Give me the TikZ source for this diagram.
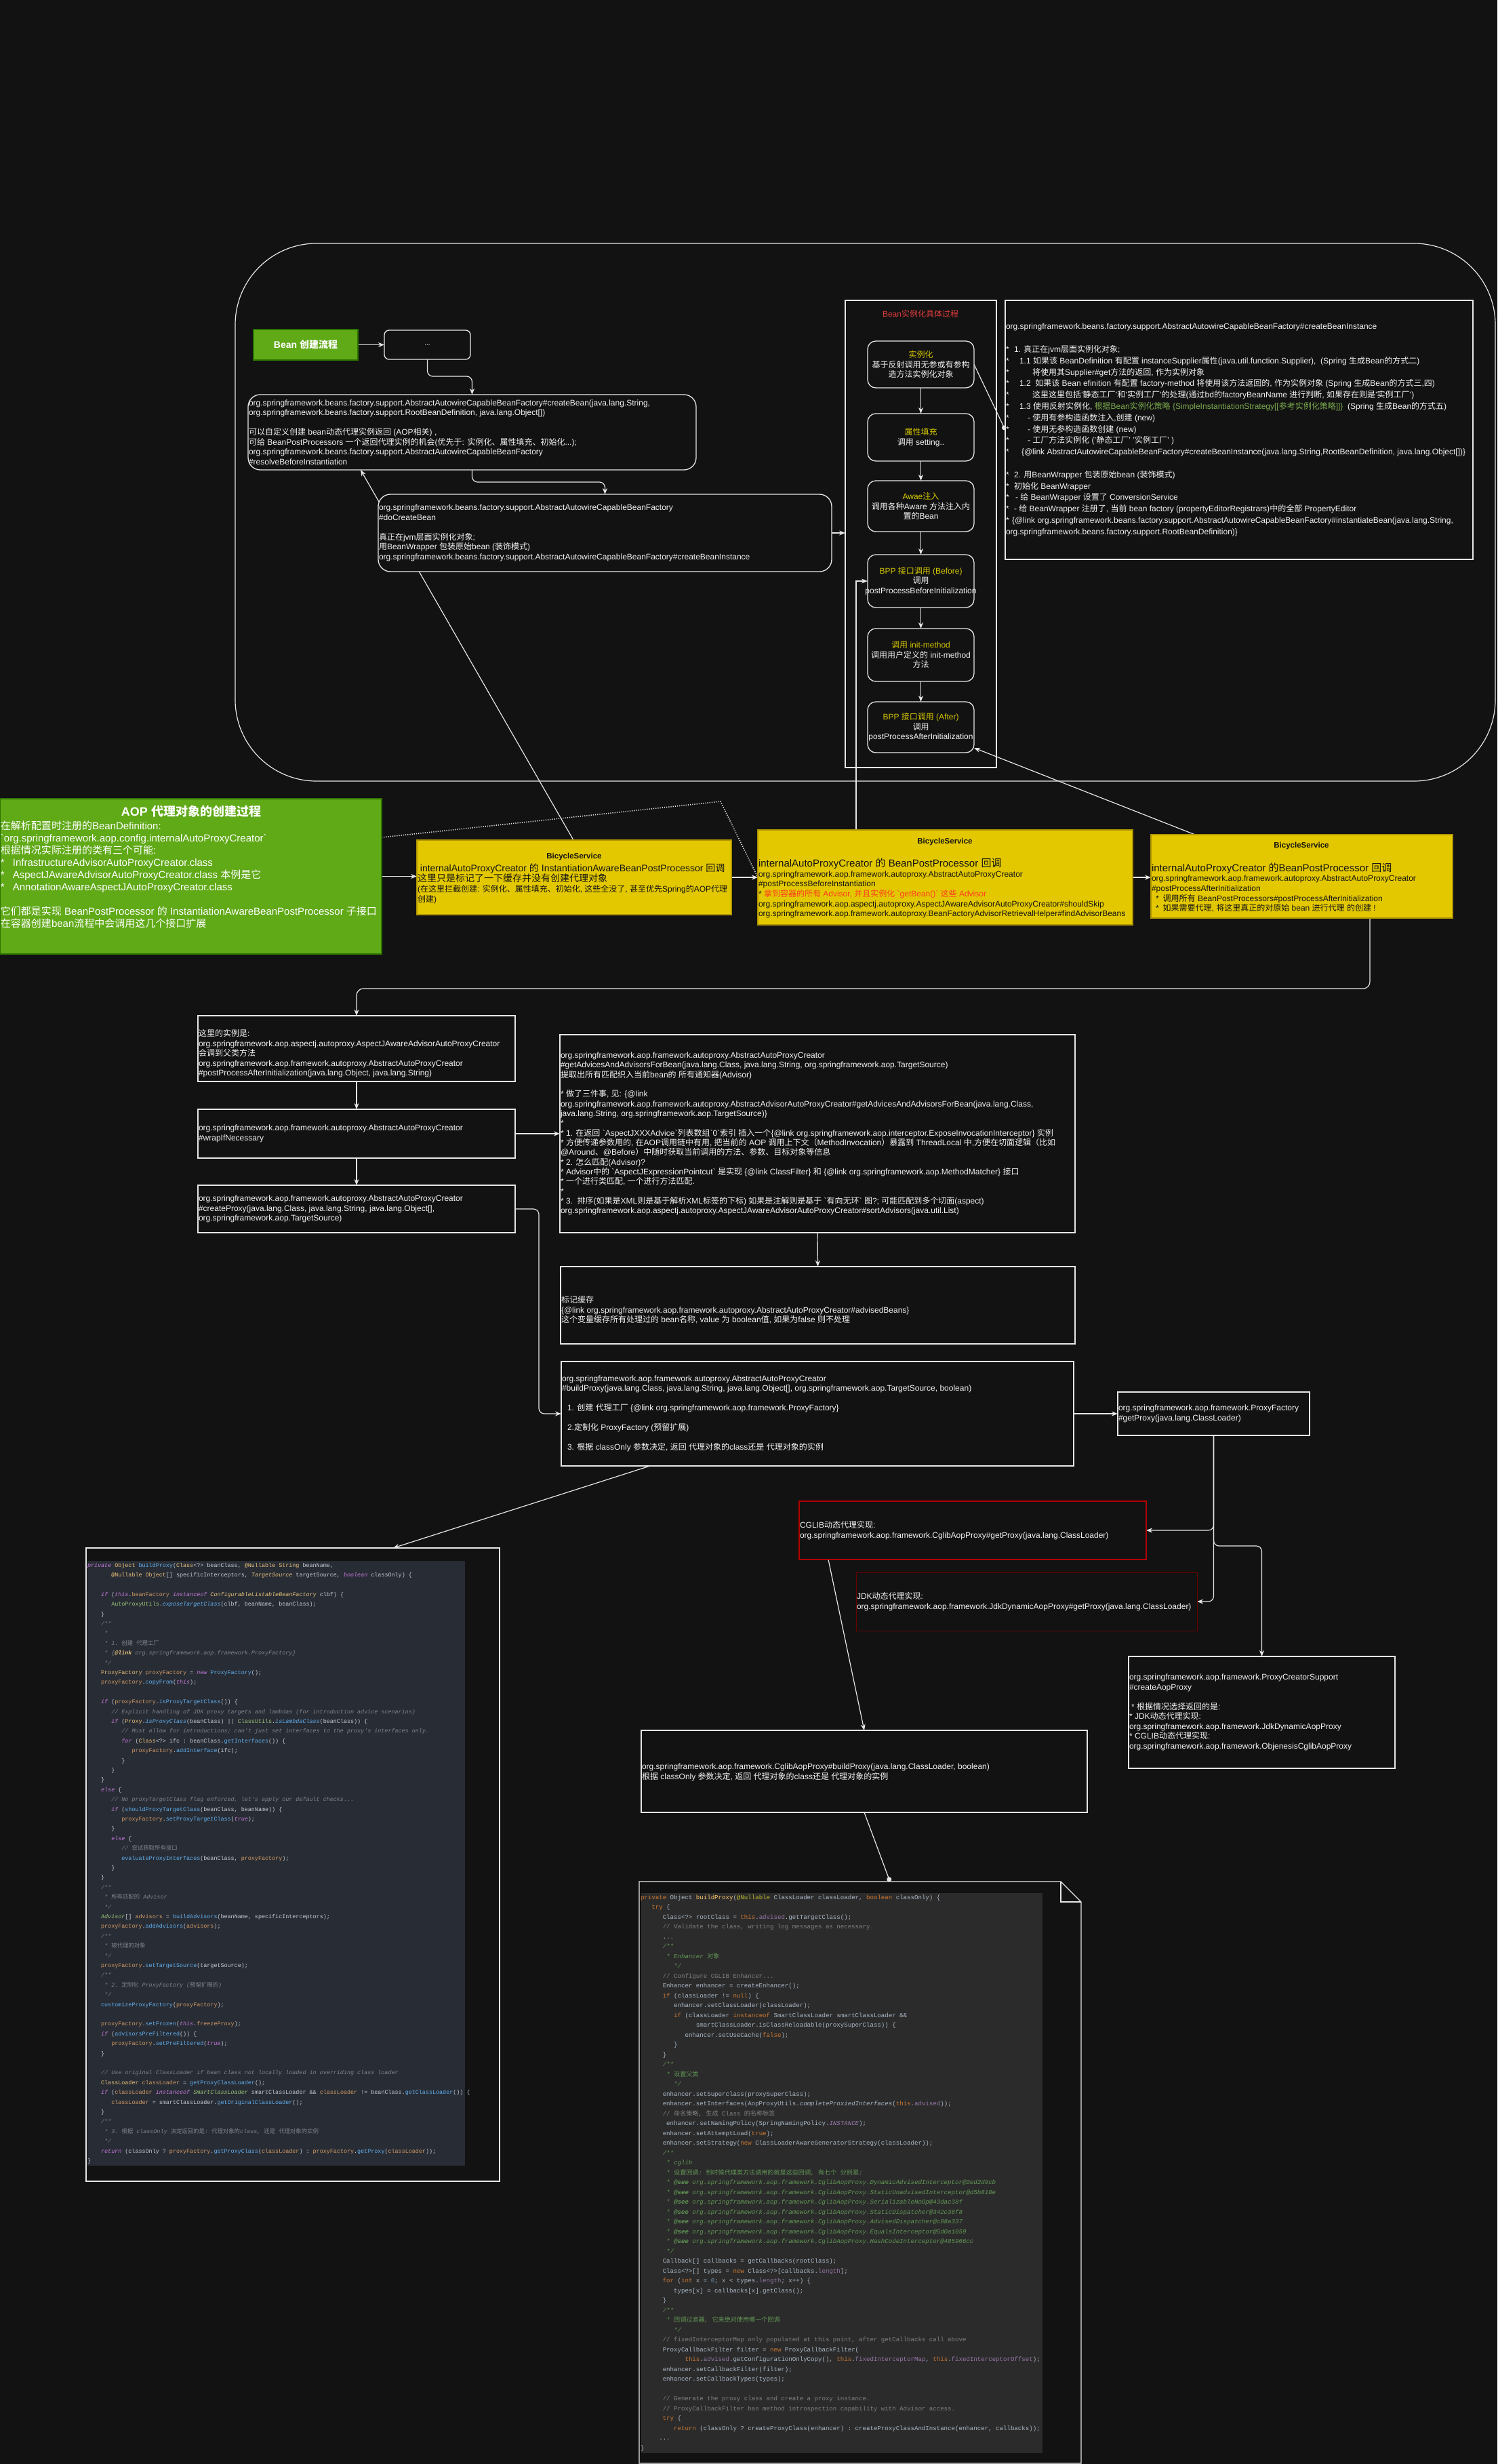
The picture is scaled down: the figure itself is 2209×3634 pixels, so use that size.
\documentclass[tikz,border=0pt]{standalone}
\usepackage{fontspec}
\setmainfont{Liberation Sans}
\setmonofont{Liberation Mono}
\newfontfamily\cjkf{Noto Sans CJK SC}
\usetikzlibrary{arrows.meta,calc,fit}
\pgfdeclarelayer{back}
\pgfdeclarelayer{links}
\pgfsetlayers{back,links,main}
% --- automatic switch to the CJK font for Chinese characters
\XeTeXinterchartokenstate=1
\newXeTeXintercharclass\CJKcls
\newcount\cjkc
\cjkc="3000 \loop \XeTeXcharclass\cjkc=\CJKcls \ifnum\cjkc<"303F \advance\cjkc by 1 \repeat
\cjkc="4E00 \loop \XeTeXcharclass\cjkc=\CJKcls \ifnum\cjkc<"9FFF \advance\cjkc by 1 \repeat
\cjkc="FF00 \loop \XeTeXcharclass\cjkc=\CJKcls \ifnum\cjkc<"FFEF \advance\cjkc by 1 \repeat
\def\latinfam{\rmfamily}
\XeTeXinterchartoks 0 \CJKcls={\cjkf}
\XeTeXinterchartoks 4095 \CJKcls={\cjkf}
\XeTeXinterchartoks \CJKcls 0={\latinfam}
\XeTeXinterchartoks \CJKcls 4095={\latinfam}
% --- colours
\definecolor{bg}{HTML}{121212}
\definecolor{lc}{HTML}{E6E6E6}
\definecolor{tc}{HTML}{F2F2F2}
\definecolor{gr}{HTML}{60A917}
\definecolor{grs}{HTML}{2D7600}
\definecolor{yl}{HTML}{E3C800}
\definecolor{yls}{HTML}{B09500}
\definecolor{ytx}{HTML}{141414}
\definecolor{yt}{HTML}{D6C700}
\definecolor{rtt}{HTML}{E03C3C}
\definecolor{rdt}{HTML}{FF3B1F}
\definecolor{grn}{HTML}{7BAA4E}
\definecolor{cgr}{HTML}{B20000}
\definecolor{jdr}{HTML}{6B0000}
\definecolor{lbg}{HTML}{282C34}
\definecolor{lkw}{HTML}{C678DD}
\definecolor{lty}{HTML}{E5C07B}
\definecolor{lfn}{HTML}{61AFEF}
\definecolor{lfd}{HTML}{D19A66}
\definecolor{lcm}{HTML}{7F848E}
\definecolor{lgn}{HTML}{98C379}
\definecolor{ltx}{HTML}{C5CAD3}
\definecolor{rbg}{HTML}{2B2B2B}
\definecolor{rkw}{HTML}{CC7832}
\definecolor{rfd}{HTML}{9876AA}
\definecolor{rcm}{HTML}{808080}
\definecolor{rjd}{HTML}{629755}
\definecolor{rtx}{HTML}{A9B7C6}
\definecolor{ran}{HTML}{BBB529}
\definecolor{rfn}{HTML}{FFC66D}
\definecolor{rnm}{HTML}{6897BB}
% --- helpers
\newcommand\fs[2]{\fontsize{#1}{#2}\selectfont}
\newcommand\st[1]{\makebox[#1pt][l]{*}}
\newcommand\ind[1]{\hspace*{#1\fontcharwd\font`0}}
\newcommand\cK[1]{\textcolor{lkw}{\itshape #1}}
\newcommand\cT[1]{\textcolor{lty}{#1}}
\newcommand\cF[1]{\textcolor{lfn}{#1}}
\newcommand\cV[1]{\textcolor{lfd}{#1}}
\newcommand\cC[1]{\textcolor{lcm}{\itshape #1}}
\newcommand\cG[1]{\textcolor{lgn}{#1}}
\newcommand\dK[1]{\textcolor{rkw}{#1}}
\newcommand\dV[1]{\textcolor{rfd}{#1}}
\newcommand\dC[1]{\textcolor{rcm}{#1}}
\newcommand\dJ[1]{\textcolor{rjd}{\itshape #1}}
\newcommand\dA[1]{\textcolor{ran}{#1}}
\newcommand\dF[1]{\textcolor{rfn}{#1}}
\newcommand\dN[1]{\textcolor{rnm}{#1}}
\tikzset{
  every node/.style={inner sep=0pt, outer sep=0pt},
  wbox/.style={draw=lc, line width=1.3pt, fill=bg},
  rbox/.style={wbox, rounded corners=18pt},
  sbox/.style={wbox, rounded corners=12pt},
  cont/.style={draw=lc, line width=1.2pt},
  gbox/.style={draw=grs, line width=1.3pt, fill=gr},
  ybox/.style={draw=yls, line width=1.5pt, fill=yl},
  ytitle/.style={font=\bfseries\fs{11.5}{13}, text=ytx},
  ytxt/.style={align=left, text=ytx, font=\fs{12}{14.6}},
  txt/.style={text=tc, align=left, font=\fs{12}{14.5}},
  ctxt/.style={text=tc, align=center, font=\fs{12}{14.5}},
  conn/.style={draw=lc, line width=1.2pt},
  arr/.style={conn, -{Stealth[length=9pt,width=7pt]}},
  dotend/.style={conn, -{Circle[length=7pt]}},
}
\begin{document}
\begin{tikzpicture}[x=1pt,y=-1pt]
\begin{pgfonlayer}{back}
  \fill[bg] (0,0) rectangle (2209,3634);
\end{pgfonlayer}
\useasboundingbox (0,0) rectangle (2209,3634);

% ================= Bean creation flow =================
\node[cont, rounded corners=120pt, fit={(347,359)(2206,1152)}] (flow) {};
\node[gbox, fit={(374,486)(528,531)}] (gb) {};
\node[font=\bfseries\fs{14}{16}, text=white] (gbt) at (gb.center) {Bean 创建流程};
\node[rbox, rounded corners=7pt, fit={(567,487)(694,530)}] (dots) {};
\node[txt, font=\fs{10}{12}] (dotst) at (dots.center) {...};

\node[rbox, fit={(366,582)(1027,693)}] (cb) {};
\node[txt, anchor=west, xshift=1pt] (cbt) at (cb.west) {org.springframework.beans.factory.support.AbstractAutowireCapableBeanFactory\#createBean(java.lang.String,\\
org.springframework.beans.factory.support.RootBeanDefinition, java.lang.Object[])\\
~\\
可以自定义创建 bean动态代理实例返回 (AOP相关) ,\\
可给 BeanPostProcessors 一个返回代理实例的机会(优先于: 实例化、属性填充、初始化...);\\
org.springframework.beans.factory.support.AbstractAutowireCapableBeanFactory\\
\#resolveBeforeInstantiation};

\node[rbox, fit={(558,729)(1227,843)}] (dcb) {};
\node[txt, anchor=west, xshift=1pt] (dcbt) at (dcb.west) {org.springframework.beans.factory.support.AbstractAutowireCapableBeanFactory\\
\#doCreateBean\\
~\\
真正在jvm层面实例化对象;\\
用BeanWrapper 包装原始bean (装饰模式)\\
org.springframework.beans.factory.support.AbstractAutowireCapableBeanFactory\#createBeanInstance};

\node[cont, fit={(1247,443)(1470,1132)}] (bic) {};
\node[font=\fs{12}{14}, text=rtt] (bict) at (1358,463) {Bean实例化具体过程};
\node[sbox, fit={(1280,503)(1437,572)}] (s1) {};
\node[ctxt] (s1t) at (s1.center) {\textcolor{yt}{实例化}\\基于反射调用无参或有参构\\造方法实例化对象};
\node[sbox, fit={(1280,610)(1437,680)}] (s2) {};
\node[ctxt] (s2t) at (s2.center) {\textcolor{yt}{属性填充}\\调用 setting..};
\node[sbox, fit={(1280,709)(1437,784)}] (s3) {};
\node[ctxt] (s3t) at (s3.center) {\textcolor{yt}{Awae注入}\\调用各种Aware 方法注入内\\置的Bean};
\node[sbox, fit={(1280,818)(1437,896)}] (s4) {};
\node[ctxt] (s4t) at (s4.center) {\textcolor{yt}{BPP 接口调用 (Before)}\\调用\\postProcessBeforeInitialization};
\node[sbox, fit={(1280,927)(1437,1005)}] (s5) {};
\node[ctxt] (s5t) at (s5.center) {\textcolor{yt}{调用 init-method}\\调用用户定义的 init-method\\方法};
\node[sbox, fit={(1280,1035)(1437,1110)}] (s6) {};
\node[ctxt] (s6t) at (s6.center) {\textcolor{yt}{BPP 接口调用 (After)}\\调用\\postProcessAfterInitialization};

\node[wbox, fit={(1483,443)(2173,825)}] (rt) {};
\node[txt, font=\fs{12}{16.8}, anchor=west, xshift=1pt] (rtx) at (rt.west) {org.springframework.beans.factory.support.AbstractAutowireCapableBeanFactory\#createBeanInstance\\
~\\
\st{12}1. 真正在jvm层面实例化对象;\\
\st{20}1.1 如果该 BeanDefinition 有配置 instanceSupplier属性(java.util.function.Supplier),\ \ (Spring 生成Bean的方式二)\\
\st{39}将使用其Supplier\#get方法的返回, 作为实例对象\\
\st{20}1.2\ \ 如果该 Bean efinition 有配置 factory-method 将使用该方法返回的, 作为实例对象 (Spring 生成Bean的方式三,四)\\
\st{39}这里这里包括'静态工厂'和'实例工厂'的处理(通过bd的factoryBeanName 进行判断, 如果存在则是'实例工厂')\\
\st{20}1.3 使用反射实例化, \textcolor{grn}{根据Bean实例化策略 \{SimpleInstantiationStrategy[[参考实例化策略]]\}}\ \ (Spring 生成Bean的方式五)\\
\st{32}- 使用有参构造函数注入,创建 (new)\\
\st{32}- 使用无参构造函数创建 (new)\\
\st{32}- 工厂方法实例化 ('静态工厂' '实例工厂' )\\
\st{23}\{@link AbstractAutowireCapableBeanFactory\#createBeanInstance(java.lang.String,RootBeanDefinition, java.lang.Object[])\}\\
~\\
\st{12}2. 用BeanWrapper 包装原始bean (装饰模式)\\
\st{12}初始化 BeanWrapper\\
\st{14}- 给 BeanWrapper 设置了 ConversionService\\
\st{12}- 给 BeanWrapper 注册了, 当前 bean factory (propertyEditorRegistrars)中的全部 PropertyEditor\\
\st{9}\{@link org.springframework.beans.factory.support.AbstractAutowireCapableBeanFactory\#instantiateBean(java.lang.String,\\
org.springframework.beans.factory.support.RootBeanDefinition)\}};

% ================= AOP =================
\node[gbox, fit={(0,1178)(563,1407)}] (ab) {};
\node[font=\bfseries\fs{18}{20}, text=white] (abh) at (282,1197) {AOP 代理对象的创建过程};
\node[txt, font=\fs{15}{18}, text=white, anchor=west] (abt) at (1,1290) {在解析配置时注册的BeanDefinition:\\
\textasciigrave org.springframework.aop.config.internalAutoProxyCreator\textasciigrave\\
根据情况实际注册的类有三个可能:\\
{*}\hspace{12pt}InfrastructureAdvisorAutoProxyCreator.class\\
{*}\hspace{12pt}AspectJAwareAdvisorAutoProxyCreator.class 本例是它\\
{*}\hspace{12pt}AnnotationAwareAspectJAutoProxyCreator.class\\
~\\
它们都是实现 BeanPostProcessor 的 InstantiationAwareBeanPostProcessor 子接口\\
在容器创建bean流程中会调用这几个接口扩展};

\node[ybox, fit={(615,1239)(1079,1349)}] (y1) {};
\node[ytitle] (y1h) at (847,1264) {BicycleService};
\node[ytxt, anchor=west, xshift=1pt] (y1t) at (615,1303) {{\fs{14}{15}\ internalAutoProxyCreator 的 InstantiationAwareBeanPostProcessor 回调}\\
{\fs{14}{15}这里只是标记了一下缓存并没有创建代理对象}\\
(在这里拦截创建: 实例化、属性填充、初始化, 这些全没了, 甚至优先Spring的AOP代理\\
创建)};

\node[ybox, fit={(1118,1224)(1671,1364)}] (y2) {};
\node[ytitle] (y2h) at (1394,1242) {BicycleService};
\node[ytxt, anchor=west, xshift=1pt] (y2t) at (1118,1310) {{\fs{15}{16}internalAutoProxyCreator 的 BeanPostProcessor 回调}\\
org.springframework.aop.framework.autoproxy.AbstractAutoProxyCreator\\
\#postProcessBeforeInstantiation\\
{*} \textcolor{rdt}{拿到容器的所有 Advisor, 并且实例化 \textasciigrave getBean()\textasciigrave\ 这些 Advisor}\\
org.springframework.aop.aspectj.autoproxy.AspectJAwareAdvisorAutoProxyCreator\#shouldSkip\\
org.springframework.aop.framework.autoproxy.BeanFactoryAdvisorRetrievalHelper\#findAdvisorBeans};

\node[ybox, fit={(1698,1231)(2143,1354)}] (y3) {};
\node[ytitle] (y3h) at (1920,1248) {BicycleService};
\node[ytxt, anchor=west, xshift=1pt] (y3t) at (1698,1309) {{\fs{15}{16}internalAutoProxyCreator 的BeanPostProcessor 回调}\\
org.springframework.aop.framework.autoproxy.AbstractAutoProxyCreator\\
\#postProcessAfterInitialization\\
\hspace*{6pt}{*}\hspace{6pt}调用所有 BeanPostProcessors\#postProcessAfterInitialization\\
\hspace*{6pt}{*}\hspace{6pt}如果需要代理, 将这里真正的对原始 bean 进行代理 的创建 !};

% ================= proxy creation chain =================
\node[wbox, fit={(292,1498)(760,1595)}] (A) {};
\node[txt, anchor=west, xshift=1pt] (At) at (292,1554) {这里的实例是:\\
org.springframework.aop.aspectj.autoproxy.AspectJAwareAdvisorAutoProxyCreator\\
会调到父类方法\\
org.springframework.aop.framework.autoproxy.AbstractAutoProxyCreator\\
\#postProcessAfterInitialization(java.lang.Object, java.lang.String)};
\node[wbox, fit={(292,1636)(760,1708)}] (B) {};
\node[txt, anchor=west, xshift=1pt] (Bt) at (B.west) {org.springframework.aop.framework.autoproxy.AbstractAutoProxyCreator\\
\#wrapIfNecessary};
\node[wbox, fit={(292,1748)(760,1818)}] (C) {};
\node[txt, anchor=west, xshift=1pt] (Ct) at (C.west) {org.springframework.aop.framework.autoproxy.AbstractAutoProxyCreator\\
\#createProxy(java.lang.Class, java.lang.String, java.lang.Object[],\\
org.springframework.aop.TargetSource)};

\node[wbox, fit={(826,1526)(1586,1818)}] (ga) {};
\node[txt, font=\fs{12}{14.35}, anchor=west, xshift=1pt] (gat) at (ga.west) {org.springframework.aop.framework.autoproxy.AbstractAutoProxyCreator\\
\#getAdvicesAndAdvisorsForBean(java.lang.Class, java.lang.String, org.springframework.aop.TargetSource)\\
提取出所有匹配织入当前bean的 所有通知器(Advisor)\\
~\\
{*} 做了三件事, 见: \{@link\\
org.springframework.aop.framework.autoproxy.AbstractAdvisorAutoProxyCreator\#getAdvicesAndAdvisorsForBean(java.lang.Class,\\
java.lang.String, org.springframework.aop.TargetSource)\}\\
{*}\\
{*} 1. 在返回 \textasciigrave AspectJXXXAdvice\textasciigrave 列表数组\textasciigrave 0\textasciigrave 索引 插入一个\{@link org.springframework.aop.interceptor.ExposeInvocationInterceptor\} 实例\\
{*} 方便传递参数用的, 在AOP调用链中有用, 把当前的 AOP 调用上下文（MethodInvocation）暴露到 ThreadLocal 中,方便在切面逻辑（比如\\
@Around、@Before）中随时获取当前调用的方法、参数、目标对象等信息\\
{*} 2. 怎么匹配(Advisor)?\\
{*} Advisor中的 \textasciigrave AspectJExpressionPointcut\textasciigrave\ 是实现 \{@link ClassFilter\} 和 \{@link org.springframework.aop.MethodMatcher\} 接口\\
{*} 一个进行类匹配, 一个进行方法匹配.\\
{*}\\
{*} 3.\ \ 排序(如果是XML则是基于解析XML标签的下标) 如果是注解则是基于 \textasciigrave 有向无环\textasciigrave\ 图?; 可能匹配到多个切面(aspect)\\
org.springframework.aop.aspectj.autoproxy.AspectJAwareAdvisorAutoProxyCreator\#sortAdvisors(java.util.List)};

\node[wbox, fit={(827,1868)(1586,1982)}] (ad) {};
\node[txt, anchor=west, xshift=1pt] (adt) at (827,1932) {标记缓存\\
\{@link org.springframework.aop.framework.autoproxy.AbstractAutoProxyCreator\#advisedBeans\}\\
这个变量缓存所有处理过的 bean名称, value 为 boolean值, 如果为false 则不处理};

\node[wbox, fit={(828,2008)(1584,2162)}] (bp) {};
\node[txt, anchor=west, xshift=1pt] (bpt) at (bp.west) {org.springframework.aop.framework.autoproxy.AbstractAutoProxyCreator\\
\#buildProxy(java.lang.Class, java.lang.String, java.lang.Object[], org.springframework.aop.TargetSource, boolean)\\
~\\
\hspace*{8pt}1. 创建 代理工厂 \{@link org.springframework.aop.framework.ProxyFactory\}\\
~\\
\hspace*{8pt}2.定制化 ProxyFactory (预留扩展)\\
~\\
\hspace*{8pt}3. 根据 classOnly 参数决定, 返回 代理对象的class还是 代理对象的实例};

\node[wbox, fit={(1649,2053)(1932,2117)}] (pf) {};
\node[txt, anchor=west, xshift=1pt] (pft) at (pf.west) {org.springframework.aop.framework.ProxyFactory\\
\#getProxy(java.lang.ClassLoader)};

\node[wbox, draw=cgr, fit={(1179,2214)(1691,2300)}] (cg) {};
\node[txt, anchor=west, xshift=1pt] (cgt) at (cg.west) {CGLIB动态代理实现:\\
org.springframework.aop.framework.CglibAopProxy\#getProxy(java.lang.ClassLoader)};
\node[wbox, draw=jdr, line width=1pt, fit={(1263,2319)(1766,2405)}] (jd) {};
\node[txt, anchor=west, xshift=1pt] (jdt) at (jd.west) {JDK动态代理实现:\\
org.springframework.aop.framework.JdkDynamicAopProxy\#getProxy(java.lang.ClassLoader)};

\node[wbox, fit={(1665,2443)(2058,2608)}] (ps) {};
\node[txt, anchor=west, xshift=1pt] (pst) at (ps.west) {org.springframework.aop.framework.ProxyCreatorSupport\\
\#createAopProxy\\
~\\
\hspace*{3pt}{*} 根据情况选择返回的是:\\
{*} JDK动态代理实现:\\
org.springframework.aop.framework.JdkDynamicAopProxy\\
{*} CGLIB动态代理实现:\\
org.springframework.aop.framework.ObjenesisCglibAopProxy};

\node[wbox, fit={(946,2552)(1604,2673)}] (cbp) {};
\node[txt, anchor=west, xshift=1pt] (cbpt) at (946,2614) {org.springframework.aop.framework.CglibAopProxy\#buildProxy(java.lang.ClassLoader, boolean)\\
根据 classOnly 参数决定, 返回 代理对象的class还是 代理对象的实例};

% ================= left code =================
\node[wbox, fit={(127,2283)(737,3217)}] (lc) {};
\coordinate (lctop) at (580,2283);
\node[fill=lbg, fit={(129,2302)(686,3194)}] (lcp) {};
\node[align=left, anchor=west, text=ltx, font=\fs{8.4}{14.4}\ttfamily\def\latinfam{\ttfamily}] (lct) at (129,2748) {%
\cK{private} \cT{Object} \cF{buildProxy}(\cT{Class}<?> beanClass, \cT{@Nullable} \cT{String} beanName,\\
\ind{7}\cT{@Nullable} \cT{Object}[] specificInterceptors, \cT{\itshape TargetSource} targetSource, \cK{boolean} classOnly) \{\\
~\\
\ind{4}\cK{if} (\cK{this}.\cV{beanFactory} \cK{instanceof} \cT{\itshape ConfigurableListableBeanFactory} clbf) \{\\
\ind{7}\cG{AutoProxyUtils}.\cF{\itshape exposeTargetClass}(clbf, beanName, beanClass);\\
\ind{4}\}\\
\ind{4}\cC{/**}\\
\ind{4}\cC{ *}\\
\ind{4}\cC{ * 1. 创建 代理工厂}\\
\ind{4}\cC{ * \{}\cT{\itshape\bfseries @link}\cC{ org.springframework.aop.framework.ProxyFactory\}}\\
\ind{4}\cC{ */}\\
\ind{4}\cT{ProxyFactory} \cV{proxyFactory} = \cK{new} \cF{ProxyFactory}();\\
\ind{4}\cV{proxyFactory}.\cF{copyFrom}(\cK{this});\\
~\\
\ind{4}\cK{if} (\cV{proxyFactory}.\cF{isProxyTargetClass}()) \{\\
\ind{7}\cC{// Explicit handling of JDK proxy targets and lambdas (for introduction advice scenarios)}\\
\ind{7}\cK{if} (\cT{Proxy}.\cF{\itshape isProxyClass}(beanClass) || \cG{ClassUtils}.\cF{\itshape isLambdaClass}(beanClass)) \{\\
\ind{10}\cC{// Must allow for introductions; can't just set interfaces to the proxy's interfaces only.}\\
\ind{10}\cK{for} (\cT{Class}<?> ifc : beanClass.\cF{getInterfaces}()) \{\\
\ind{13}\cV{proxyFactory}.\cF{addInterface}(ifc);\\
\ind{10}\}\\
\ind{7}\}\\
\ind{4}\}\\
\ind{4}\cK{else} \{\\
\ind{7}\cC{// No proxyTargetClass flag enforced, let's apply our default checks...}\\
\ind{7}\cK{if} (\cF{shouldProxyTargetClass}(beanClass, beanName)) \{\\
\ind{10}\cV{proxyFactory}.\cF{setProxyTargetClass}(\cK{true});\\
\ind{7}\}\\
\ind{7}\cK{else} \{\\
\ind{10}\cC{// 尝试获取所有接口}\\
\ind{10}\cF{evaluateProxyInterfaces}(beanClass, \cV{proxyFactory});\\
\ind{7}\}\\
\ind{4}\}\\
\ind{4}\cC{/**}\\
\ind{4}\cC{ * 所有匹配的 Advisor}\\
\ind{4}\cC{ */}\\
\ind{4}\cG{\itshape Advisor}[] \cV{advisors} = \cF{buildAdvisors}(beanName, specificInterceptors);\\
\ind{4}\cV{proxyFactory}.\cF{addAdvisors}(\cV{advisors});\\
\ind{4}\cC{/**}\\
\ind{4}\cC{ * 被代理的对象}\\
\ind{4}\cC{ */}\\
\ind{4}\cV{proxyFactory}.\cF{setTargetSource}(targetSource);\\
\ind{4}\cC{/**}\\
\ind{4}\cC{ * 2. 定制化 ProxyFactory (预留扩展的)}\\
\ind{4}\cC{ */}\\
\ind{4}\cF{customizeProxyFactory}(\cV{proxyFactory});\\
~\\
\ind{4}\cV{proxyFactory}.\cF{setFrozen}(\cK{this}.\cV{freezeProxy});\\
\ind{4}\cK{if} (\cF{advisorsPreFiltered}()) \{\\
\ind{7}\cV{proxyFactory}.\cF{setPreFiltered}(\cK{true});\\
\ind{4}\}\\
~\\
\ind{4}\cC{// Use original ClassLoader if bean class not locally loaded in overriding class loader}\\
\ind{4}\cT{ClassLoader} \cV{classLoader} = \cF{getProxyClassLoader}();\\
\ind{4}\cK{if} (\cV{classLoader} \cK{instanceof} \cG{\itshape SmartClassLoader} smartClassLoader \&\& \cV{classLoader} != beanClass.\cF{getClassLoader}()) \{\\
\ind{7}\cV{classLoader} = smartClassLoader.\cF{getOriginalClassLoader}();\\
\ind{4}\}\\
\ind{4}\cC{/**}\\
\ind{4}\cC{ * 3. 根据 classOnly 决定返回的是: 代理对象的class, 还是 代理对象的实例}\\
\ind{4}\cC{ */}\\
\ind{4}\cK{return} (classOnly ? \cV{proxyFactory}.\cF{getProxyClass}(\cV{classLoader}) : \cV{proxyFactory}.\cF{getProxy}(\cV{classLoader}));\\
\}};

% ================= bottom code (note) =================
\node[fit={(943,2775)(1595,3633)}] (bc) {};
\draw[conn, fill=bg] (943,2775) -- (1565,2775) -- (1595,2805) -- (1595,3633) -- (943,3633) -- cycle;
\draw[conn] (1565,2775) -- (1565,2805) -- (1595,2805);
\coordinate (bcdot) at (1313,2775);
\node[fill=rbg, fit={(946,2792)(1538,3618)}] (bcp) {};
\node[align=left, anchor=west, text=rtx, font=\fs{9.1}{14.5}\ttfamily\def\latinfam{\ttfamily}] (bct) at (945,3205) {%
\dK{private} Object \dF{buildProxy}(\dA{@Nullable} ClassLoader classLoader, \dK{boolean} classOnly) \{\\
\ind{3}\dK{try} \{\\
\ind{6}Class<?> rootClass = \dK{this}.\dV{advised}.getTargetClass();\\
\ind{6}\dC{// Validate the class, writing log messages as necessary.}\\
\ind{6}...\\
\ind{6}\dJ{/**}\\
\ind{6}\dJ{ * Enhancer 对象}\\
\ind{6}\dJ{\ \ \ */}\\
\ind{6}\dC{// Configure CGLIB Enhancer...}\\
\ind{6}Enhancer enhancer = createEnhancer();\\
\ind{6}\dK{if} (classLoader != \dK{null}) \{\\
\ind{9}enhancer.setClassLoader(classLoader);\\
\ind{9}\dK{if} (classLoader \dK{instanceof} SmartClassLoader smartClassLoader \&\&\\
\ind{15}smartClassLoader.isClassReloadable(proxySuperClass)) \{\\
\ind{12}enhancer.setUseCache(\dK{false});\\
\ind{9}\}\\
\ind{6}\}\\
\ind{6}\dJ{/**}\\
\ind{6}\dJ{ * 设置父类}\\
\ind{6}\dJ{\ \ \ */}\\
\ind{6}enhancer.setSuperclass(proxySuperClass);\\
\ind{6}enhancer.setInterfaces(AopProxyUtils.{\itshape completeProxiedInterfaces}(\dK{this}.\dV{advised}));\\
\ind{6}\dC{// 命名策略, 生成 Class 的名称标签}\\
\ind{7}enhancer.setNamingPolicy(SpringNamingPolicy.\dV{\itshape INSTANCE});\\
\ind{6}enhancer.setAttemptLoad(\dK{true});\\
\ind{6}enhancer.setStrategy(\dK{new} ClassLoaderAwareGeneratorStrategy(classLoader));\\
\ind{6}\dJ{/**}\\
\ind{6}\dJ{ * cglib}\\
\ind{6}\dJ{ * 设置回调: 到时候代理类方法调用的就是这些回调, 有七个 分别是:}\\
\ind{6}\dJ{ * \textbf{@see} org.springframework.aop.framework.CglibAopProxy.DynamicAdvisedInterceptor@2ed2d9cb}\\
\ind{6}\dJ{ * \textbf{@see} org.springframework.aop.framework.CglibAopProxy.StaticUnadvisedInterceptor@d5b810e}\\
\ind{6}\dJ{ * \textbf{@see} org.springframework.aop.framework.CglibAopProxy.SerializableNoOp@43dac38f}\\
\ind{6}\dJ{ * \textbf{@see} org.springframework.aop.framework.CglibAopProxy.StaticDispatcher@342c38f8}\\
\ind{6}\dJ{ * \textbf{@see} org.springframework.aop.framework.CglibAopProxy.AdvisedDispatcher@c88a337}\\
\ind{6}\dJ{ * \textbf{@see} org.springframework.aop.framework.CglibAopProxy.EqualsInterceptor@5d0a1059}\\
\ind{6}\dJ{ * \textbf{@see} org.springframework.aop.framework.CglibAopProxy.HashCodeInterceptor@485966cc}\\
\ind{6}\dJ{ */}\\
\ind{6}Callback[] callbacks = getCallbacks(rootClass);\\
\ind{6}Class<?>[] types = \dK{new} Class<?>[callbacks.\dV{length}];\\
\ind{6}\dK{for} (\dK{int} x = \dN{0}; x < types.\dV{length}; x++) \{\\
\ind{9}types[x] = callbacks[x].getClass();\\
\ind{6}\}\\
\ind{6}\dJ{/**}\\
\ind{6}\dJ{ * 回调过滤器, 它来绝对使用哪一个回调}\\
\ind{6}\dJ{\ \ \ */}\\
\ind{6}\dC{// fixedInterceptorMap only populated at this point, after getCallbacks call above}\\
\ind{6}ProxyCallbackFilter filter = \dK{new} ProxyCallbackFilter(\\
\ind{12}\dK{this}.\dV{advised}.getConfigurationOnlyCopy(), \dK{this}.\dV{fixedInterceptorMap}, \dK{this}.\dV{fixedInterceptorOffset});\\
\ind{6}enhancer.setCallbackFilter(filter);\\
\ind{6}enhancer.setCallbackTypes(types);\\
~\\
\ind{6}\dC{// Generate the proxy class and create a proxy instance.}\\
\ind{6}\dC{// ProxyCallbackFilter has method introspection capability with Advisor access.}\\
\ind{6}\dK{try} \{\\
\ind{9}\dK{return} (classOnly ? createProxyClass(enhancer) : createProxyClassAndInstance(enhancer, callbacks));\\
\ind{5}...\\
\}};

\coordinate (dbend) at (1063,1182);

% ================= connectors =================
\begin{pgfonlayer}{links}
\draw[arr] (gb.east) -- (dots.west);
\draw[arr, rounded corners=8pt] (dots.south) -- ++(0,25) -| (cb.north);
\draw[arr, rounded corners=8pt] (cb.south) -- ++(0,18) -| (dcb.north);
\draw[arr] (dcb.east) -- (dcb.east -| bic.west);
\draw[arr] ($(y1.north west)+(231,0)$) -- ($(cb.south west)+(166,0)$);
\draw[arr] (s1.south) -- (s2.north);
\draw[arr] (s2.south) -- (s3.north);
\draw[arr] (s3.south) -- (s4.north);
\draw[arr] (s4.south) -- (s5.north);
\draw[arr] (s5.south) -- (s6.north);
\draw[dotend] (s1.east) -- (rt.west);
\draw[arr] ($(y2.north west)+(145,0)$) |- (s4.west);
\draw[arr] ($(y3.north west)+(65,0)$) -- ($(s6.south east)+(0,-7)$);
\draw[arr] (ab.east) -- (ab.east -| y1.west);
\draw[conn, dotted, line width=1.6pt] ($(ab.north east)+(0,57)$) -- (dbend) -- (y2.west);
\draw[arr] (y1.east) -- (y1.east -| y2.west);
\draw[arr] (y2.east) -- (y2.east -| y3.west);
\draw[arr, rounded corners=10pt] ($(y3.south west)+(323,0)$) -- ++(0,104) -| (A.north);
\draw[arr] (A.south) -- (B.north);
\draw[arr] (B.south) -- (C.north);
\draw[arr] (B.east) -- (B.east -| ga.west);
\draw[arr, rounded corners=8pt] (C.east) -- ++(35,0) |- (bp.west);
\draw[arr] (ga.south) -- (ad.north);
\draw[arr] (bp.east) -- (bp.east -| pf.west);
\draw[arr, rounded corners=8pt] (pf.south) |- (cg.east);
\draw[arr, rounded corners=8pt] (pf.south) |- (jd.east);
\draw[arr, rounded corners=8pt] (pf.south) -- ++(0,163) -| (ps.north);
\draw[arr] ($(cg.south west)+(43,0)$) -- (cbp.north);
\draw[arr] ($(bp.south west)+(131,0)$) -- (lctop);
\draw[dotend] (cbp.south) -- (bcdot);
\end{pgfonlayer}
\end{tikzpicture}
\end{document}
